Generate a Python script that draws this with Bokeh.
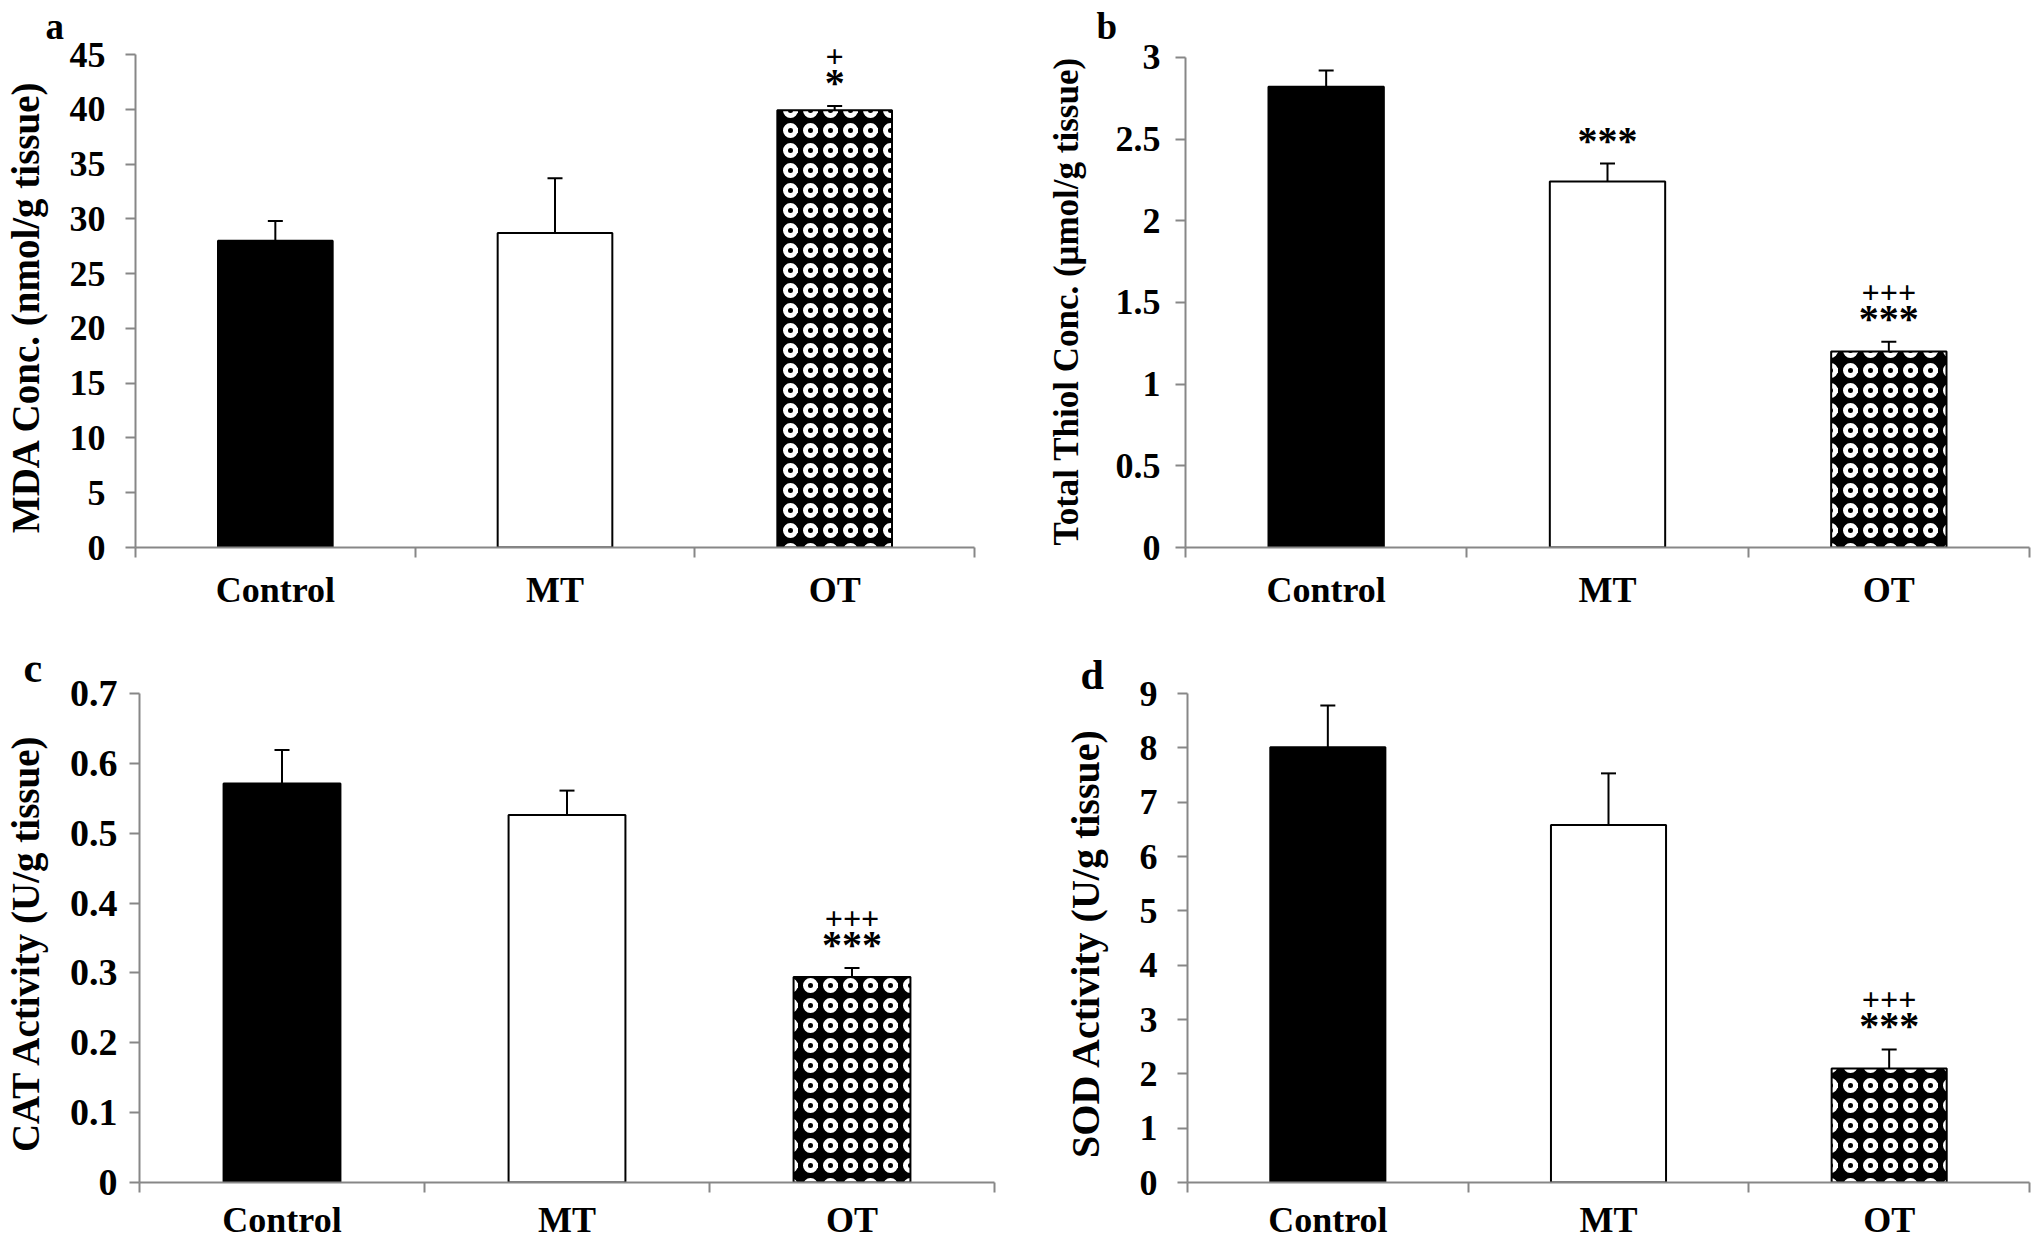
from bokeh.plotting import figure
from bokeh.layouts import column, row
from bokeh.models import (ColumnDataSource, FixedTicker, NumeralTickFormatter, Whisker,
                          TeeHead, LabelSet, LinearAxis, Range1d)
from bokeh.embed import file_html
from bokeh.resources import INLINE

categories = ["Control", "MT", "OT"]

mda_mean = [28.0, 28.7, 39.9]
mda_sem = [1.8, 5.0, 0.4]
mda_ticks = [0, 5, 10, 15, 20, 25, 30, 35, 40, 45]
mda_star = ["", "", "*"]
mda_plus = ["", "", "+"]

thiol_mean = [2.82, 2.24, 1.20]
thiol_sem = [0.10, 0.11, 0.06]
thiol_ticks = [0, 0.5, 1, 1.5, 2, 2.5, 3]
thiol_star = ["", "***", "***"]
thiol_plus = ["", "", "+++"]

cat_mean = [0.571, 0.526, 0.294]
cat_sem = [0.048, 0.035, 0.013]
cat_ticks = [0, 0.1, 0.2, 0.3, 0.4, 0.5, 0.6, 0.7]
cat_star = ["", "", "***"]
cat_plus = ["", "", "+++"]

sod_mean = [8.01, 6.58, 2.10]
sod_sem = [0.77, 0.95, 0.35]
sod_ticks = [0, 1, 2, 3, 4, 5, 6, 7, 8, 9]
sod_star = ["", "", "***"]
sod_plus = ["", "", "+++"]

bar_fill = ["black", "white", "black"]
bar_hatch = [" ", " ", "ring"]

FONT = "Liberation Serif"
AXIS_GRAY = "#878787"


def panel(means, sems, ticks, stars, pluses, ylabel, width, height,
          mbl, mbr, mbt, mbb, top_pad_px, tick_std, lab_std, lab_size, tick_size,
          cat_std, letter, letter_size, letter_offset, letter_standoff):
    frame_h = height - mbt - mbb
    axis_px = frame_h - top_pad_px
    y_end = ticks[0] + (ticks[-1] - ticks[0]) * frame_h / axis_px
    p = figure(width=width, height=height, output_backend="svg", toolbar_location=None,
               x_range=Range1d(0, len(categories)), y_range=Range1d(ticks[0], y_end),
               min_border_left=mbl, min_border_right=mbr, min_border_top=mbt,
               min_border_bottom=mbb, x_axis_location=None, y_axis_location=None,
               title=letter)
    p.outline_line_color = None
    p.grid.visible = False
    p.background_fill_color = "white"
    p.border_fill_color = "white"
    p.title.align = "left"
    p.title.offset = letter_offset
    p.title.standoff = letter_standoff
    p.title.text_font = FONT
    p.title.text_font_style = "bold"
    p.title.text_font_size = letter_size
    p.title.text_color = "black"

    xs = [i + 0.5 for i in range(len(categories))]
    tops = [m + s for m, s in zip(means, sems)]
    src = ColumnDataSource(dict(x=xs, top=means, upper=tops, fill=bar_fill,
                                hatch=bar_hatch, star=stars, plus=pluses))

    yax = LinearAxis(ticker=FixedTicker(ticks=ticks, minor_ticks=[]),
                     formatter=NumeralTickFormatter(format="0.[0]"),
                     axis_label=ylabel, bounds=(ticks[0], ticks[-1]))
    yax.axis_line_color = AXIS_GRAY
    yax.axis_line_width = 2
    yax.major_tick_line_color = AXIS_GRAY
    yax.major_tick_line_width = 2
    yax.major_tick_out = 10
    yax.major_tick_in = 0
    yax.major_label_standoff = tick_std
    yax.major_label_text_font = FONT
    yax.major_label_text_font_style = "bold"
    yax.major_label_text_font_size = tick_size
    yax.major_label_text_color = "black"
    yax.axis_label_text_font = FONT
    yax.axis_label_text_font_style = "bold"
    yax.axis_label_text_font_size = lab_size
    yax.axis_label_text_color = "black"
    yax.axis_label_standoff = lab_std
    p.add_layout(yax, "left")

    xax = LinearAxis(ticker=FixedTicker(ticks=xs, minor_ticks=list(range(len(categories) + 1))))
    xax.major_label_overrides = {x: c for x, c in zip(xs, categories)}
    xax.axis_line_color = AXIS_GRAY
    xax.axis_line_width = 2
    xax.major_tick_out = 0
    xax.major_tick_in = 0
    xax.minor_tick_out = 10
    xax.minor_tick_in = 0
    xax.minor_tick_line_color = AXIS_GRAY
    xax.minor_tick_line_width = 2
    xax.major_label_standoff = cat_std
    xax.major_label_text_font = FONT
    xax.major_label_text_font_style = "bold"
    xax.major_label_text_font_size = "36px"
    xax.major_label_text_color = "black"
    p.add_layout(xax, "below")

    p.vbar(x="x", top="top", width=0.41, bottom=0, source=src, fill_color="fill",
           line_color="black", line_width=2, hatch_pattern="hatch", hatch_color="white",
           hatch_scale=20, hatch_weight=5)

    w = Whisker(base="x", lower="top", upper="upper", source=src, line_color="black",
                line_width=2, lower_head=None,
                upper_head=TeeHead(size=15, line_color="black", line_width=2))
    p.add_layout(w)

    p.add_layout(LabelSet(x="x", y="upper", text="star", source=src, y_offset=10,
                          text_align="center", text_baseline="alphabetic",
                          text_font=FONT, text_font_style="bold", text_font_size="40px",
                          text_color="black"))
    p.add_layout(LabelSet(x="x", y="upper", text="plus", source=src, y_offset=39,
                          text_align="center", text_baseline="alphabetic",
                          text_font=FONT, text_font_style="bold", text_font_size="32px",
                          text_color="black"))
    return p


pa = panel(mda_mean, mda_sem, mda_ticks, mda_star, mda_plus,
           "MDA Conc.  (nmol/g  tissue)", 1000, 615, 130, 26, 46, 68, 8,
           20, 20, "39px", "36px", 12, "a", "37px", -90, 0)
pb = panel(thiol_mean, thiol_sem, thiol_ticks, thiol_star, thiol_plus,
           "Total Thiol  Conc. (\u03bcmol/g tissue)", 1032, 615, 185, 3, 46, 65, 11,
           15, 27, "35px", "36px", 12, "b", "37px", -89, 0)
pc = panel(cat_mean, cat_sem, cat_ticks, cat_star, cat_plus,
           "CAT Activity  (U/g tissue)", 1000, 630, 138, 6, 78, 60, 0,
           12, 20, "39px", "38px", 7, "c", "42px", -116, 5)
pd = panel(sod_mean, sod_sem, sod_ticks, sod_star, sod_plus,
           "SOD Activity  (U/g tissue)", 1032, 630, 187, 3, 75, 63, 0,
           20, 29, "40px", "36px", 7, "d", "42px", -107, -9)

layout = column(row(pa, pb), row(pc, pd))
open("out.html", "w").write(file_html(layout, INLINE))
